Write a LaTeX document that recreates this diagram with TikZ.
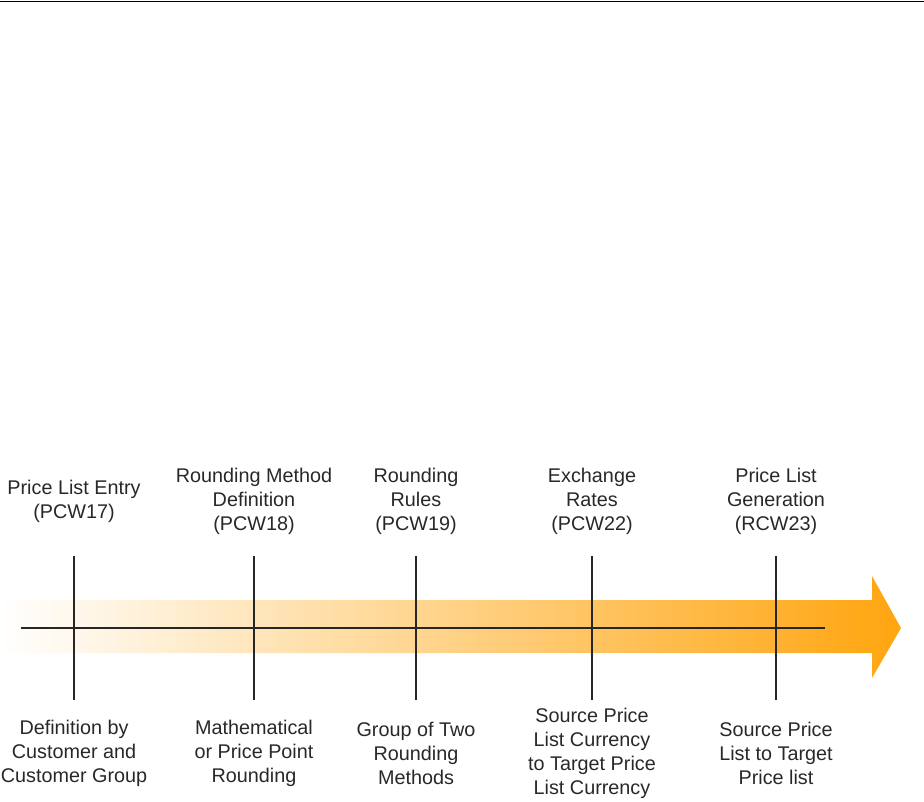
\documentclass[tikz,border=0pt]{standalone}
\usepackage{fontspec}
\setmainfont{Liberation Sans}
\usetikzlibrary{calc}
\definecolor{arroworange}{RGB}{255,165,15}
\definecolor{labelgray}{RGB}{40,40,40}
\tikzset{
  steplabel/.style={align=center, inner sep=0pt, text=labelgray,
    font=\fontsize{19.8}{24}\selectfont},
  tick/.style={line width=1.5pt, black!85}
}

\begin{document}
\begin{tikzpicture}[x=1pt,y=-1pt]
  \useasboundingbox (0,0) rectangle (924,801);
  \draw[line width=1.5pt] (0,1.5) -- (924,1.5);

  % the arrow band
  \shade[left color=white, right color=arroworange]
    (0,600) -- (872,600) -- (872,576) -- (901,628) -- (872,678) -- (872,653) -- (0,653) -- cycle;

  \coordinate (start) at (21,628);
  \coordinate (end) at (825,628);
  \draw[tick] (start) -- (end);

  \foreach \x/\name/\uptext/\downtext in {
      74/pcwa/{Price List Entry\\(PCW17)}/{Definition by\\Customer and\\Customer Group},
      254/pcwb/{Rounding Method\\Definition\\(PCW18)}/{Mathematical\\or Price Point\\Rounding},
      416/pcwc/{Rounding\\Rules\\(PCW19)}/{Group of Two\\Rounding\\Methods},
      592/pcwd/{Exchange\\Rates\\(PCW22)}/{Source Price\\List Currency\\to Target Price\\List Currency},
      776/pcwe/{Price List\\Generation\\(RCW23)}/{Source Price\\List to Target\\Price list}}{
    \coordinate (\name up) at (\x,556);
    \coordinate (\name down) at (\x,700);
    \draw[tick] (\name up) -- (\name down);
    \node[steplabel] (\name top) at (\x,501) {\uptext};
    \node[steplabel] (\name bot) at (\x,753) {\downtext};
  }

\end{tikzpicture}
\end{document}
